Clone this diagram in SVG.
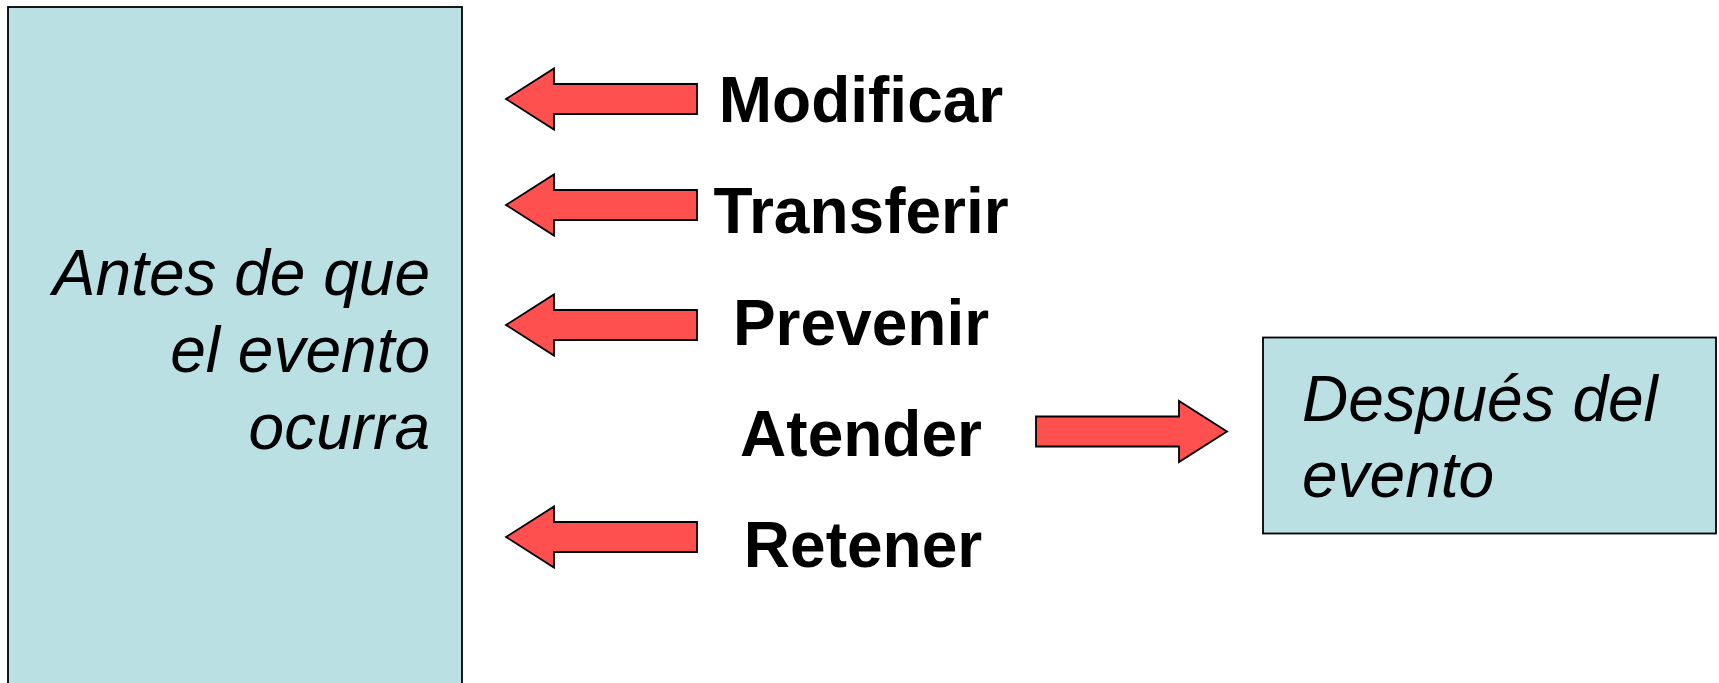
<svg xmlns="http://www.w3.org/2000/svg" width="1719" height="683" viewBox="0 0 1719 683">
<defs>
<style>
.box{fill:#BBE0E3;stroke:#000;stroke-width:1.8}
.arrow{fill:#FF5050;stroke:#000;stroke-width:1.8;stroke-linejoin:miter}
.it{font-family:"Liberation Sans",Arial,sans-serif;font-style:italic;font-size:64px;fill:#000}
.lbl{font-family:"Liberation Sans",Arial,sans-serif;font-weight:bold;font-size:64px;fill:#000;text-anchor:middle}
</style>
<path id="leftArrow" d="M0,0 L48,-30.5 L48,-15 L191,-15 L191,15 L48,15 L48,30.5 Z"/>
</defs>
<rect width="1719" height="683" fill="#fff"/>
<g id="antes">
<rect class="box" x="8" y="7" width="454" height="700"/>
<text class="it" text-anchor="end"><tspan x="430" y="295">Antes de que</tspan><tspan x="430" y="372">el evento</tspan><tspan x="430" y="449">ocurra</tspan></text>
</g>
<g id="despues">
<rect class="box" x="1263" y="337.5" width="453" height="196"/>
<text class="it"><tspan x="1302" y="421">Después del</tspan><tspan x="1302" y="497">evento</tspan></text>
</g>
<g id="modificar"><text class="lbl" x="861" y="122">Modificar</text></g>
<g id="transferir"><text class="lbl" x="861" y="233">Transferir</text></g>
<g id="prevenir"><text class="lbl" x="861" y="345">Prevenir</text></g>
<g id="atender"><text class="lbl" x="861" y="456">Atender</text></g>
<g id="retener"><text class="lbl" x="863" y="567">Retener</text></g>
<g id="connectors">
<use href="#leftArrow" class="arrow" x="506" y="99"/>
<use href="#leftArrow" class="arrow" x="506" y="205"/>
<use href="#leftArrow" class="arrow" x="506" y="325"/>
<use href="#leftArrow" class="arrow" x="506" y="537"/>
<use href="#leftArrow" class="arrow" transform="translate(1227,431.5) scale(-1,1)"/>
</g>
</svg>
